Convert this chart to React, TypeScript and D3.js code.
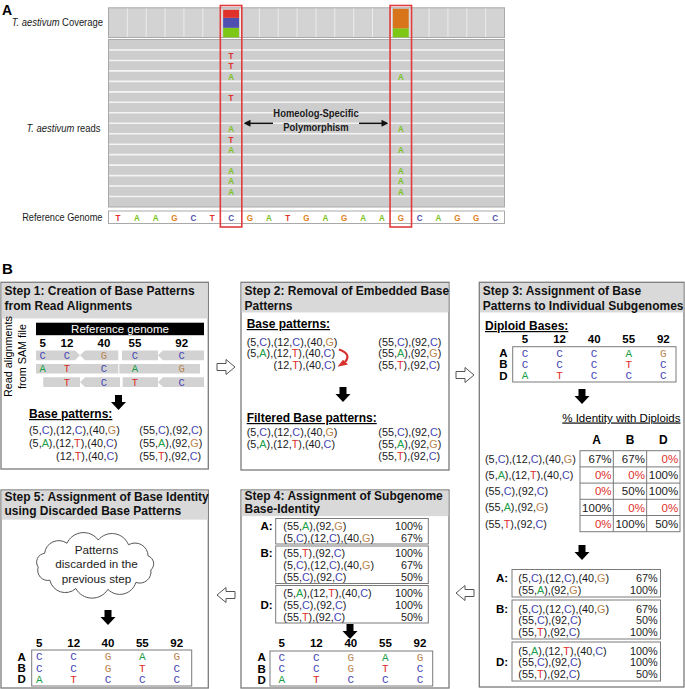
import React from "react";
import * as d3 from "d3";

type Pair = [number, string];

// ---------------- Panel A data ----------------
const refSeq = ["T","A","A","G","C","T","C","G","A","T","G","A","G","A","A","G","C","A","G","G","C"];
const hspColumns = [6, 15];
const coverageCol6 = [{ base: "A", value: 9.5 }, { base: "C", value: 10 }, { base: "T", value: 8 }];
const coverageCol15 = [{ base: "A", value: 9 }, { base: "G", value: 19.5 }];
const readRowCount = 16;
const mismatchCol6 = [
  { row: 1, base: "T" }, { row: 2, base: "T" }, { row: 3, base: "A" }, { row: 5, base: "T" },
  { row: 8, base: "A" }, { row: 9, base: "T" }, { row: 10, base: "A" }, { row: 12, base: "A" },
  { row: 13, base: "A" }, { row: 14, base: "A" },
];
const mismatchCol15 = [
  { row: 3, base: "A" }, { row: 8, base: "A" }, { row: 10, base: "A" },
  { row: 12, base: "A" }, { row: 13, base: "A" }, { row: 14, base: "A" },
];

// ---------------- Panel B data ----------------
const positions = [5, 12, 40, 55, 92];
const step1ReadBases = [
  ["C", "C", "G", "C", "C"],
  ["A", "T", "C", "A", "G"],
  ["", "T", "C", "T", "C"],
];
const step1Reads = [
  { row: 0, from: 0, to: 26.2, dir: "R" }, { row: 0, from: 26.2, to: 49, dir: "L" },
  { row: 0, from: 51.2, to: 72.6, dir: "N" }, { row: 0, from: 72.6, to: 100, dir: "L" },
  { row: 1, from: 0, to: 49, dir: "N" }, { row: 1, from: 49.6, to: 97.6, dir: "N" },
  { row: 2, from: 4.3, to: 26.2, dir: "N" }, { row: 2, from: 26.2, to: 50, dir: "L" },
  { row: 2, from: 51.6, to: 72.6, dir: "N" }, { row: 2, from: 72.6, to: 100, dir: "L" },
];
const basePatternsLeft: Pair[][] = [
  [[5, "C"], [12, "C"], [40, "G"]],
  [[5, "A"], [12, "T"], [40, "C"]],
  [[12, "T"], [40, "C"]],
];
const basePatternsRight: Pair[][] = [
  [[55, "C"], [92, "C"]],
  [[55, "A"], [92, "G"]],
  [[55, "T"], [92, "C"]],
];
const filteredLeft: Pair[][] = [
  [[5, "C"], [12, "C"], [40, "G"]],
  [[5, "A"], [12, "T"], [40, "C"]],
];
const filteredRight: Pair[][] = [
  [[55, "C"], [92, "C"]],
  [[55, "A"], [92, "G"]],
  [[55, "T"], [92, "C"]],
];
const subgenomes = ["A", "B", "D"];
const diploidBases = [
  ["C", "C", "C", "A", "G"],
  ["C", "C", "C", "T", "C"],
  ["A", "T", "C", "C", "C"],
];
const identityPatterns: Pair[][] = [
  [[5, "C"], [12, "C"], [40, "G"]],
  [[5, "A"], [12, "T"], [40, "C"]],
  [[55, "C"], [92, "C"]],
  [[55, "A"], [92, "G"]],
  [[55, "T"], [92, "C"]],
];
const identityValues = [
  [67, 67, 0],
  [0, 0, 100],
  [0, 50, 100],
  [100, 0, 0],
  [0, 100, 50],
];
type Group = { label: string; labelLine: number; items: { p: Pair[]; v: number }[] };
const step3Groups: Group[] = [
  { label: "A:", labelLine: 0, items: [
    { p: [[5, "C"], [12, "C"], [40, "G"]], v: 67 },
    { p: [[55, "A"], [92, "G"]], v: 100 },
  ] },
  { label: "B:", labelLine: 0, items: [
    { p: [[5, "C"], [12, "C"], [40, "G"]], v: 67 },
    { p: [[55, "C"], [92, "C"]], v: 50 },
    { p: [[55, "T"], [92, "C"]], v: 100 },
  ] },
  { label: "D:", labelLine: 1, items: [
    { p: [[5, "A"], [12, "T"], [40, "C"]], v: 100 },
    { p: [[55, "C"], [92, "C"]], v: 100 },
    { p: [[55, "T"], [92, "C"]], v: 50 },
  ] },
];
const step4Groups: Group[] = [
  { label: "A:", labelLine: 0, items: [
    { p: [[55, "A"], [92, "G"]], v: 100 },
    { p: [[5, "C"], [12, "C"], [40, "G"]], v: 67 },
  ] },
  { label: "B:", labelLine: 0, items: [
    { p: [[55, "T"], [92, "C"]], v: 100 },
    { p: [[5, "C"], [12, "C"], [40, "G"]], v: 67 },
    { p: [[55, "C"], [92, "C"]], v: 50 },
  ] },
  { label: "D:", labelLine: 1, items: [
    { p: [[5, "A"], [12, "T"], [40, "C"]], v: 100 },
    { p: [[55, "C"], [92, "C"]], v: 100 },
    { p: [[55, "T"], [92, "C"]], v: 50 },
  ] },
];
const finalBases = [
  ["C", "C", "G", "A", "G"],
  ["C", "C", "G", "T", "C"],
  ["A", "T", "C", "C", "C"],
];
const cloudLines = ["Patterns", "discarded in the", "previous step"];

// ---------------- styles ----------------
const FONT = "'Liberation Sans', Arial, Helvetica, sans-serif";
const MONO = "'Liberation Mono', 'DejaVu Sans Mono', monospace";
const COLB: Record<string, string> = { A: "#1c9e48", C: "#4646b4", G: "#b8844e", T: "#de2a26" };
const COLA: Record<string, string> = { A: "#7cc21c", C: "#4f4fae", G: "#e0801c", T: "#e0302a" };
const COVC: Record<string, string> = { A: "#7cc814", C: "#4f4fb0", G: "#d8741a", T: "#e0302a" };
const BOX = "#7a7a7a";
const HEAD = "#d9d9d9";

function PatternText({ x, y, pairs, anchor = "start", size = 10.8 }: { x: number; y: number; pairs: Pair[]; anchor?: string; size?: number }) {
  return (
    <text x={x} y={y} fontSize={size} textAnchor={anchor} fontFamily={FONT} fill="#1a1a1a">
      {pairs.map(([p, b], i) => (
        <React.Fragment key={i}>{i > 0 ? "," : ""}({p},<tspan fill={COLB[b]}>{b}</tspan>)</React.Fragment>
      ))}
    </text>
  );
}

function HollowArrow({ x, cy, dir }: { x: number; cy: number; dir: "R" | "L" }) {
  const s = dir === "R" ? 1 : -1;
  const x0 = dir === "R" ? x : x + 18;
  const pts = [
    [0, -3.5], [9, -3.5], [9, -7.5], [18, 0], [9, 7.5], [9, 3.5], [0, 3.5],
  ].map(([dx, dy]) => `${x0 + s * dx},${cy + dy}`).join(" ");
  return <polygon points={pts} fill="#fff" stroke="#555" strokeWidth={1} />;
}

function DownArrow({ cx, y }: { cx: number; y: number }) {
  const pts = [
    [-3.5, 0], [3.5, 0], [3.5, 7], [7.5, 7], [0, 15], [-7.5, 7], [-3.5, 7],
  ].map(([dx, dy]) => `${cx + dx},${y + dy}`).join(" ");
  return <polygon points={pts} fill="#000" />;
}

function StepBox({ x0, y0, x1, y1, headH, lines }: { x0: number; y0: number; x1: number; y1: number; headH: number; lines: { t: string; y: number }[] }) {
  return (
    <g>
      <rect x={x0} y={y0} width={x1 - x0} height={y1 - y0} fill="#fff" stroke={BOX} strokeWidth={1.3} />
      <rect x={x0 + 0.65} y={y0 + 0.65} width={x1 - x0 - 1.3} height={headH} fill={HEAD} />
      {lines.map((l, i) => (
        <text key={i} x={x0 + 3.5} y={l.y} fontSize={12} fontWeight="bold" fontFamily={FONT} fill="#111">{l.t}</text>
      ))}
    </g>
  );
}

function BaseTable({ box, xRange, labelX, numY, bases }: { box: [number, number, number, number]; xRange: [number, number]; labelX: number; numY: number; bases: string[][] }) {
  const x = d3.scalePoint<number>().domain(positions).range(xRange);
  const y = d3.scaleBand<string>().domain(subgenomes).range([box[1] + 0.8, box[3] - 0.8]);
  return (
    <g>
      {positions.map((p) => (
        <text key={p} x={x(p)} y={numY} fontSize={11.5} fontWeight="bold" textAnchor="middle" fontFamily={FONT}>{p}</text>
      ))}
      <rect x={box[0]} y={box[1]} width={box[2] - box[0]} height={box[3] - box[1]} fill="#fff" stroke={BOX} strokeWidth={1} />
      {subgenomes.map((g, gi) => (
        <g key={g}>
          <text x={labelX} y={(y(g) as number) + y.bandwidth() / 2 + 4} fontSize={11.5} fontWeight="bold" textAnchor="middle" fontFamily={FONT}>{g}</text>
          {bases[gi].map((b, bi) => (
            <text key={bi} x={x(positions[bi])} y={(y(g) as number) + y.bandwidth() / 2 + 3.8} fontSize={11} textAnchor="middle" fontFamily={MONO} fill={COLB[b]}>{b}</text>
          ))}
        </g>
      ))}
    </g>
  );
}

function Groups({ groups, x0, x1, top, lh, padTop, extra, gap, labelX, labelAnchor, patX, valX }: any) {
  let cur = top;
  const out: any[] = [];
  (groups as Group[]).forEach((g, gi) => {
    const h = g.items.length * lh + extra;
    const first = cur + padTop;
    out.push(
      <g key={gi}>
        <rect x={x0} y={cur} width={x1 - x0} height={h} fill="#fff" stroke={BOX} strokeWidth={1} />
        <text x={labelX} y={first + g.labelLine * lh + 4} fontSize={11.5} fontWeight="bold" textAnchor={labelAnchor} fontFamily={FONT}>{g.label}</text>
        {g.items.map((it, ii) => (
          <g key={ii}>
            <PatternText x={patX} y={first + ii * lh + 4} pairs={it.p} />
            <text x={valX} y={first + ii * lh + 4} fontSize={10.8} textAnchor="end" fontFamily={FONT} fill="#1a1a1a">{it.v}%</text>
          </g>
        ))}
      </g>
    );
    cur += h + gap;
  });
  return <g>{out}</g>;
}

function cloudPath(cx: number, cy: number, rx: number, ry: number, n: number) {
  const pts = d3.range(n).map((i) => {
    const a = (i / n) * Math.PI * 2 + 0.2;
    return [cx + rx * Math.cos(a), cy + ry * Math.sin(a)];
  });
  let d = `M${pts[0][0]},${pts[0][1]}`;
  for (let i = 1; i <= n; i++) {
    const p0 = pts[i - 1];
    const p = pts[i % n];
    const chord = Math.hypot(p[0] - p0[0], p[1] - p0[1]);
    const r = chord * 0.58;
    d += ` A${r},${r} 0 0 1 ${p[0]},${p[1]}`;
  }
  return d + "Z";
}

function PanelA() {
  const x = d3.scaleBand<number>().domain(d3.range(refSeq.length)).range([108.5, 504.5]);
  const bw = x.bandwidth();
  const rows = d3.scaleBand<number>().domain(d3.range(readRowCount)).range([39.5, 207]);
  const cov = d3.scaleLinear().domain([0, 30]).range([0, 30]);
  const covBottom = 37.3;
  const stackBars = (col: number, segs: { base: string; value: number }[]) => {
    let acc = 0;
    return segs.map((s, i) => {
      const y1 = covBottom - cov(acc);
      acc += s.value;
      const y0 = covBottom - cov(acc);
      return <rect key={col + "-" + i} x={(x(col) as number) + 1.5} y={y0} width={bw - 3} height={y1 - y0} fill={COVC[s.base]} />;
    });
  };
  const condensed = (xx: number, yy: number, sx: number, children: any, extra: any = {}) => (
    <text transform={`translate(${xx},${yy}) scale(${sx},1)`} fontFamily={FONT} fill="#1a1a1a" {...extra}>{children}</text>
  );
  return (
    <g>
      <text x={2} y={15} fontSize={14} fontWeight="bold" fontFamily={FONT}>A</text>
      {/* coverage track */}
      <rect x={108.5} y={7.8} width={396} height={29.7} fill="#d3d3d3" stroke="#a9a9a9" strokeWidth={1} />
      {d3.range(1, refSeq.length).map((i) => (
        <line key={i} x1={x(i)} x2={x(i)} y1={8.5} y2={37} stroke="#ececec" strokeWidth={1} />
      ))}
      {stackBars(6, coverageCol6)}
      {stackBars(15, coverageCol15)}
      {/* reads */}
      <rect x={108.5} y={39.5} width={396} height={167.5} fill="#cdcdcd" stroke="#a9a9a9" strokeWidth={1} />
      {d3.range(1, readRowCount).map((r) => (
        <line key={r} x1={109} x2={504} y1={rows(r)} y2={rows(r)} stroke="#f4f4f4" strokeWidth={1.6} />
      ))}
      {mismatchCol6.map((m, i) => (
        <text key={"a" + i} transform={`translate(${(x(6) as number) + bw / 2},${(rows(m.row) as number) + rows.bandwidth() / 2 + 3.6}) scale(0.85,1)`} fontSize={9.5} fontWeight="bold" textAnchor="middle" fontFamily={FONT} fill={COLA[m.base]}>{m.base}</text>
      ))}
      {mismatchCol15.map((m, i) => (
        <text key={"b" + i} transform={`translate(${(x(15) as number) + bw / 2},${(rows(m.row) as number) + rows.bandwidth() / 2 + 3.6}) scale(0.85,1)`} fontSize={9.5} fontWeight="bold" textAnchor="middle" fontFamily={FONT} fill={COLA[m.base]}>{m.base}</text>
      ))}
      {/* reference */}
      <rect x={108.5} y={211} width={396} height={12.5} fill="#fff" stroke="#a9a9a9" strokeWidth={1} />
      {refSeq.map((b, i) => (
        <text key={i} transform={`translate(${(x(i) as number) + bw / 2},${220.8}) scale(0.85,1)`} fontSize={9.5} fontWeight="bold" textAnchor="middle" fontFamily={FONT} fill={COLA[b]}>{b}</text>
      ))}
      {/* highlight boxes */}
      {hspColumns.map((c) => (
        <rect key={c} x={(x(c) as number) - 1.3} y={5.5} width={bw + 2.6} height={221.5} fill="none" stroke="#e23b3b" strokeWidth={1.6} />
      ))}
      {/* annotation */}
      {condensed(316, 117.3, 0.82, "Homeolog-Specific", { fontSize: 11.5, fontWeight: "bold", textAnchor: "middle" })}
      {condensed(316, 131, 0.82, "Polymorphism", { fontSize: 11.5, fontWeight: "bold", textAnchor: "middle" })}
      <line x1={273} x2={249} y1={123.3} y2={123.3} stroke="#111" strokeWidth={1.5} />
      <polygon points="243.5,123.3 250.5,119.8 250.5,126.8" fill="#111" />
      <line x1={359} x2={383} y1={123.3} y2={123.3} stroke="#111" strokeWidth={1.5} />
      <polygon points="388.5,123.3 381.5,119.8 381.5,126.8" fill="#111" />
      {/* labels */}
      {condensed(103, 25.8, 0.8, [<tspan key="i" fontStyle="italic">T. aestivum</tspan>, " Coverage"], { fontSize: 11.8, textAnchor: "end" })}
      {condensed(100.5, 131.5, 0.8, [<tspan key="i" fontStyle="italic">T. aestivum</tspan>, " reads"], { fontSize: 11.8, textAnchor: "end" })}
      {condensed(102.5, 221, 0.78, "Reference Genome", { fontSize: 11.8, textAnchor: "end" })}
    </g>
  );
}

function Step1() {
  const colX = d3.scaleOrdinal<number, number>().domain(positions).range([42.7, 67, 104, 135, 181.7]);
  const u = d3.scaleLinear().domain([0, 100]).range([36, 204]);
  const rowY = d3.scaleBand<number>().domain([0, 1, 2]).range([350.5, 387]).paddingInner(0.28);
  const readPath = (x0: number, x1: number, y0: number, h: number, dir: string) => {
    const t = 5, ym = y0 + h / 2, y1 = y0 + h;
    if (dir === "R") return `M${x0},${y0}L${x1 - t},${y0}L${x1},${ym}L${x1 - t},${y1}L${x0},${y1}Z`;
    if (dir === "L") return `M${x0 + t},${y0}L${x1},${y0}L${x1},${y1}L${x0 + t},${y1}L${x0},${ym}Z`;
    return `M${x0},${y0}L${x1},${y0}L${x1},${y1}L${x0},${y1}Z`;
  };
  return (
    <g>
      <StepBox x0={1} y0={282.3} x1={208.3} y1={469} headH={35.5} lines={[{ t: "Step 1: Creation of Base Patterns", y: 295 }, { t: "from Read Alignments", y: 309.5 }]} />
      <text transform="translate(12,356.5) rotate(-90)" fontSize={10.8} textAnchor="middle" fontFamily={FONT}>Read alignments</text>
      <text transform="translate(26,356.5) rotate(-90)" fontSize={10.8} textAnchor="middle" fontFamily={FONT}>from SAM file</text>
      <rect x={36} y={322.7} width={168} height={12.5} fill="#000" />
      <text x={120} y={333} fontSize={11.5} fill="#fff" textAnchor="middle" fontFamily={FONT}>Reference genome</text>
      {positions.map((p) => (
        <text key={p} x={colX(p)} y={347} fontSize={11.5} fontWeight="bold" textAnchor="middle" fontFamily={FONT}>{p}</text>
      ))}
      {step1Reads.map((r, i) => (
        <path key={i} d={readPath(u(r.from), u(r.to), rowY(r.row) as number, rowY.bandwidth(), r.dir)} fill="#d2d2d2" />
      ))}
      {step1ReadBases.map((row, ri) => row.map((b, bi) => b ? (
        <text key={ri + "-" + bi} x={colX(positions[bi])} y={(rowY(ri) as number) + rowY.bandwidth() / 2 + 3.6} fontSize={10.5} textAnchor="middle" fontFamily={MONO} fill={COLB[b]}>{b}</text>
      ) : null))}
      <DownArrow cx={118.5} y={395} />
      <text x={29} y={418} fontSize={12} fontWeight="bold" textDecoration="underline" fontFamily={FONT}>Base patterns:</text>
      {basePatternsLeft.map((p, i) => (
        <PatternText key={i} x={p.length < 3 ? 118 : 29} anchor={p.length < 3 ? "end" : "start"} y={434.3 + i * 12.8} pairs={p} />
      ))}
      {basePatternsRight.map((p, i) => (
        <PatternText key={i} x={139.3} y={434.3 + i * 12.8} pairs={p} />
      ))}
    </g>
  );
}

function Step2() {
  return (
    <g>
      <StepBox x0={241} y0={282.3} x1={449} y1={470} headH={29.5} lines={[{ t: "Step 2: Removal of Embedded Base", y: 295 }, { t: "Patterns", y: 309.5 }]} />
      <text x={246.7} y={328} fontSize={12} fontWeight="bold" textDecoration="underline" fontFamily={FONT}>Base patterns:</text>
      {basePatternsLeft.map((p, i) => (
        <PatternText key={i} x={p.length < 3 ? 335.5 : 246.7} anchor={p.length < 3 ? "end" : "start"} y={345.5 + i * 11.7} pairs={p} />
      ))}
      {basePatternsRight.map((p, i) => (
        <PatternText key={i} x={378.3} y={345.5 + i * 11.7} pairs={p} />
      ))}
      <path d="M339,349.5 Q352,354 345,362" fill="none" stroke="#d8302c" strokeWidth={2.2} />
      <polygon points="337.5,366.8 343,359.8 348,364.5" fill="#d8302c" />
      <DownArrow cx={343} y={387} />
      <text x={246.7} y={422} fontSize={12} fontWeight="bold" textDecoration="underline" fontFamily={FONT}>Filtered Base patterns:</text>
      {filteredLeft.map((p, i) => (
        <PatternText key={i} x={246.7} y={435.8 + i * 12} pairs={p} />
      ))}
      {filteredRight.map((p, i) => (
        <PatternText key={i} x={378.3} y={435.8 + i * 12} pairs={p} />
      ))}
    </g>
  );
}

function Step3() {
  const col = d3.scaleBand<string>().domain(subgenomes).range([580, 680]);
  const row = d3.scaleBand<number>().domain(d3.range(identityPatterns.length)).range([450.7, 531.7]);
  return (
    <g>
      <StepBox x0={479.3} y0={282.3} x1={684} y1={687} headH={29.5} lines={[{ t: "Step 3: Assignment of Base", y: 295 }, { t: "Patterns to Individual Subgenomes", y: 309.5 }]} />
      <text x={485} y={330} fontSize={12} fontWeight="bold" textDecoration="underline" fontFamily={FONT}>Diploid Bases:</text>
      <BaseTable box={[512.7, 346.7, 676, 382]} xRange={[525, 663.3]} labelX={503.3} numY={343.3} bases={diploidBases} />
      <DownArrow cx={582} y={389} />
      <text x={680.5} y={421.5} fontSize={11.5} textAnchor="end" textDecoration="underline" fontFamily={FONT}>% Identity with Diploids</text>
      {subgenomes.map((g) => (
        <text key={g} x={(col(g) as number) + col.bandwidth() / 2} y={443.5} fontSize={12} fontWeight="bold" textAnchor="middle" fontFamily={FONT}>{g}</text>
      ))}
      <rect x={580} y={450.7} width={100} height={81} fill="#fff" stroke={BOX} strokeWidth={1} />
      {subgenomes.slice(1).map((g) => (
        <line key={g} x1={col(g)} x2={col(g)} y1={450.7} y2={531.7} stroke={BOX} strokeWidth={1} />
      ))}
      {d3.range(1, identityPatterns.length).map((r) => (
        <line key={r} x1={580} x2={680} y1={row(r)} y2={row(r)} stroke={BOX} strokeWidth={1} />
      ))}
      {identityPatterns.map((p, r) => (
        <g key={r}>
          <PatternText x={485} y={(row(r) as number) + row.bandwidth() / 2 + 4} pairs={p} />
          {identityValues[r].map((v, c) => (
            <text key={c} x={(col(subgenomes[c]) as number) + col.bandwidth() - 1.8} y={(row(r) as number) + row.bandwidth() / 2 + 4.2} fontSize={11.5} textAnchor="end" fontFamily={FONT} fill={v === 0 ? "#e0302a" : "#1a1a1a"}>{v}%</text>
          ))}
        </g>
      ))}
      <DownArrow cx={582} y={545} />
      <Groups groups={step3Groups} x0={512} x1={660.5} top={569.5} lh={11.5} padTop={8.5} extra={4.5} gap={3} labelX={496} labelAnchor="start" patX={518.3} valX={657.5} />
    </g>
  );
}

function Step4() {
  return (
    <g>
      <StepBox x0={241} y0={490} x1={449} y1={688} headH={25.5} lines={[{ t: "Step 4: Assignment of Subgenome", y: 500 }, { t: "Base-Identity", y: 513.3 }]} />
      <Groups groups={step4Groups} x0={275.7} x1={428.3} top={518.5} lh={12} padTop={7} extra={1.5} gap={2} labelX={272.7} labelAnchor="end" patX={283.3} valX={422.7} />
      <DownArrow cx={350} y={624} />
      <BaseTable box={[270, 651, 432.7, 686]} xRange={[281.7, 420]} labelX={261.7} numY={647} bases={finalBases} />
    </g>
  );
}

function Step5() {
  return (
    <g>
      <StepBox x0={1} y0={490} x1={208.3} y1={688} headH={29} lines={[{ t: "Step 5: Assignment of Base Identity", y: 501 }, { t: "using Discarded Base Patterns", y: 515 }]} />
      <path d={cloudPath(95, 565, 57, 25, 11)} fill="#fff" stroke="#555" strokeWidth={1} />
      {cloudLines.map((t, i) => (
        <text key={i} x={96.5} y={554.2 + i * 14.2} fontSize={11.7} textAnchor="middle" fontFamily={FONT} fill="#222">{t}</text>
      ))}
      <DownArrow cx={108} y={610} />
      <BaseTable box={[31.7, 650, 191.7, 686]} xRange={[39.3, 176.7]} labelX={21.7} numY={647} bases={finalBases} />
    </g>
  );
}

export default function App() {
  return (
    <svg width={685} height={689} style={{ position: "absolute", left: 0, top: 0, background: "#fff" }} fontFamily={FONT}>
      <rect x={0} y={0} width={685} height={689} fill="#fff" />
      <PanelA />
      <text x={2} y={274} fontSize={15} fontWeight="bold" fontFamily={FONT}>B</text>
      <Step1 />
      <Step2 />
      <Step3 />
      <Step4 />
      <Step5 />
      <HollowArrow x={217} cy={367} dir="R" />
      <HollowArrow x={456} cy={375} dir="R" />
      <HollowArrow x={456} cy={593} dir="L" />
      <HollowArrow x={217} cy={595} dir="L" />
    </svg>
  );
}
